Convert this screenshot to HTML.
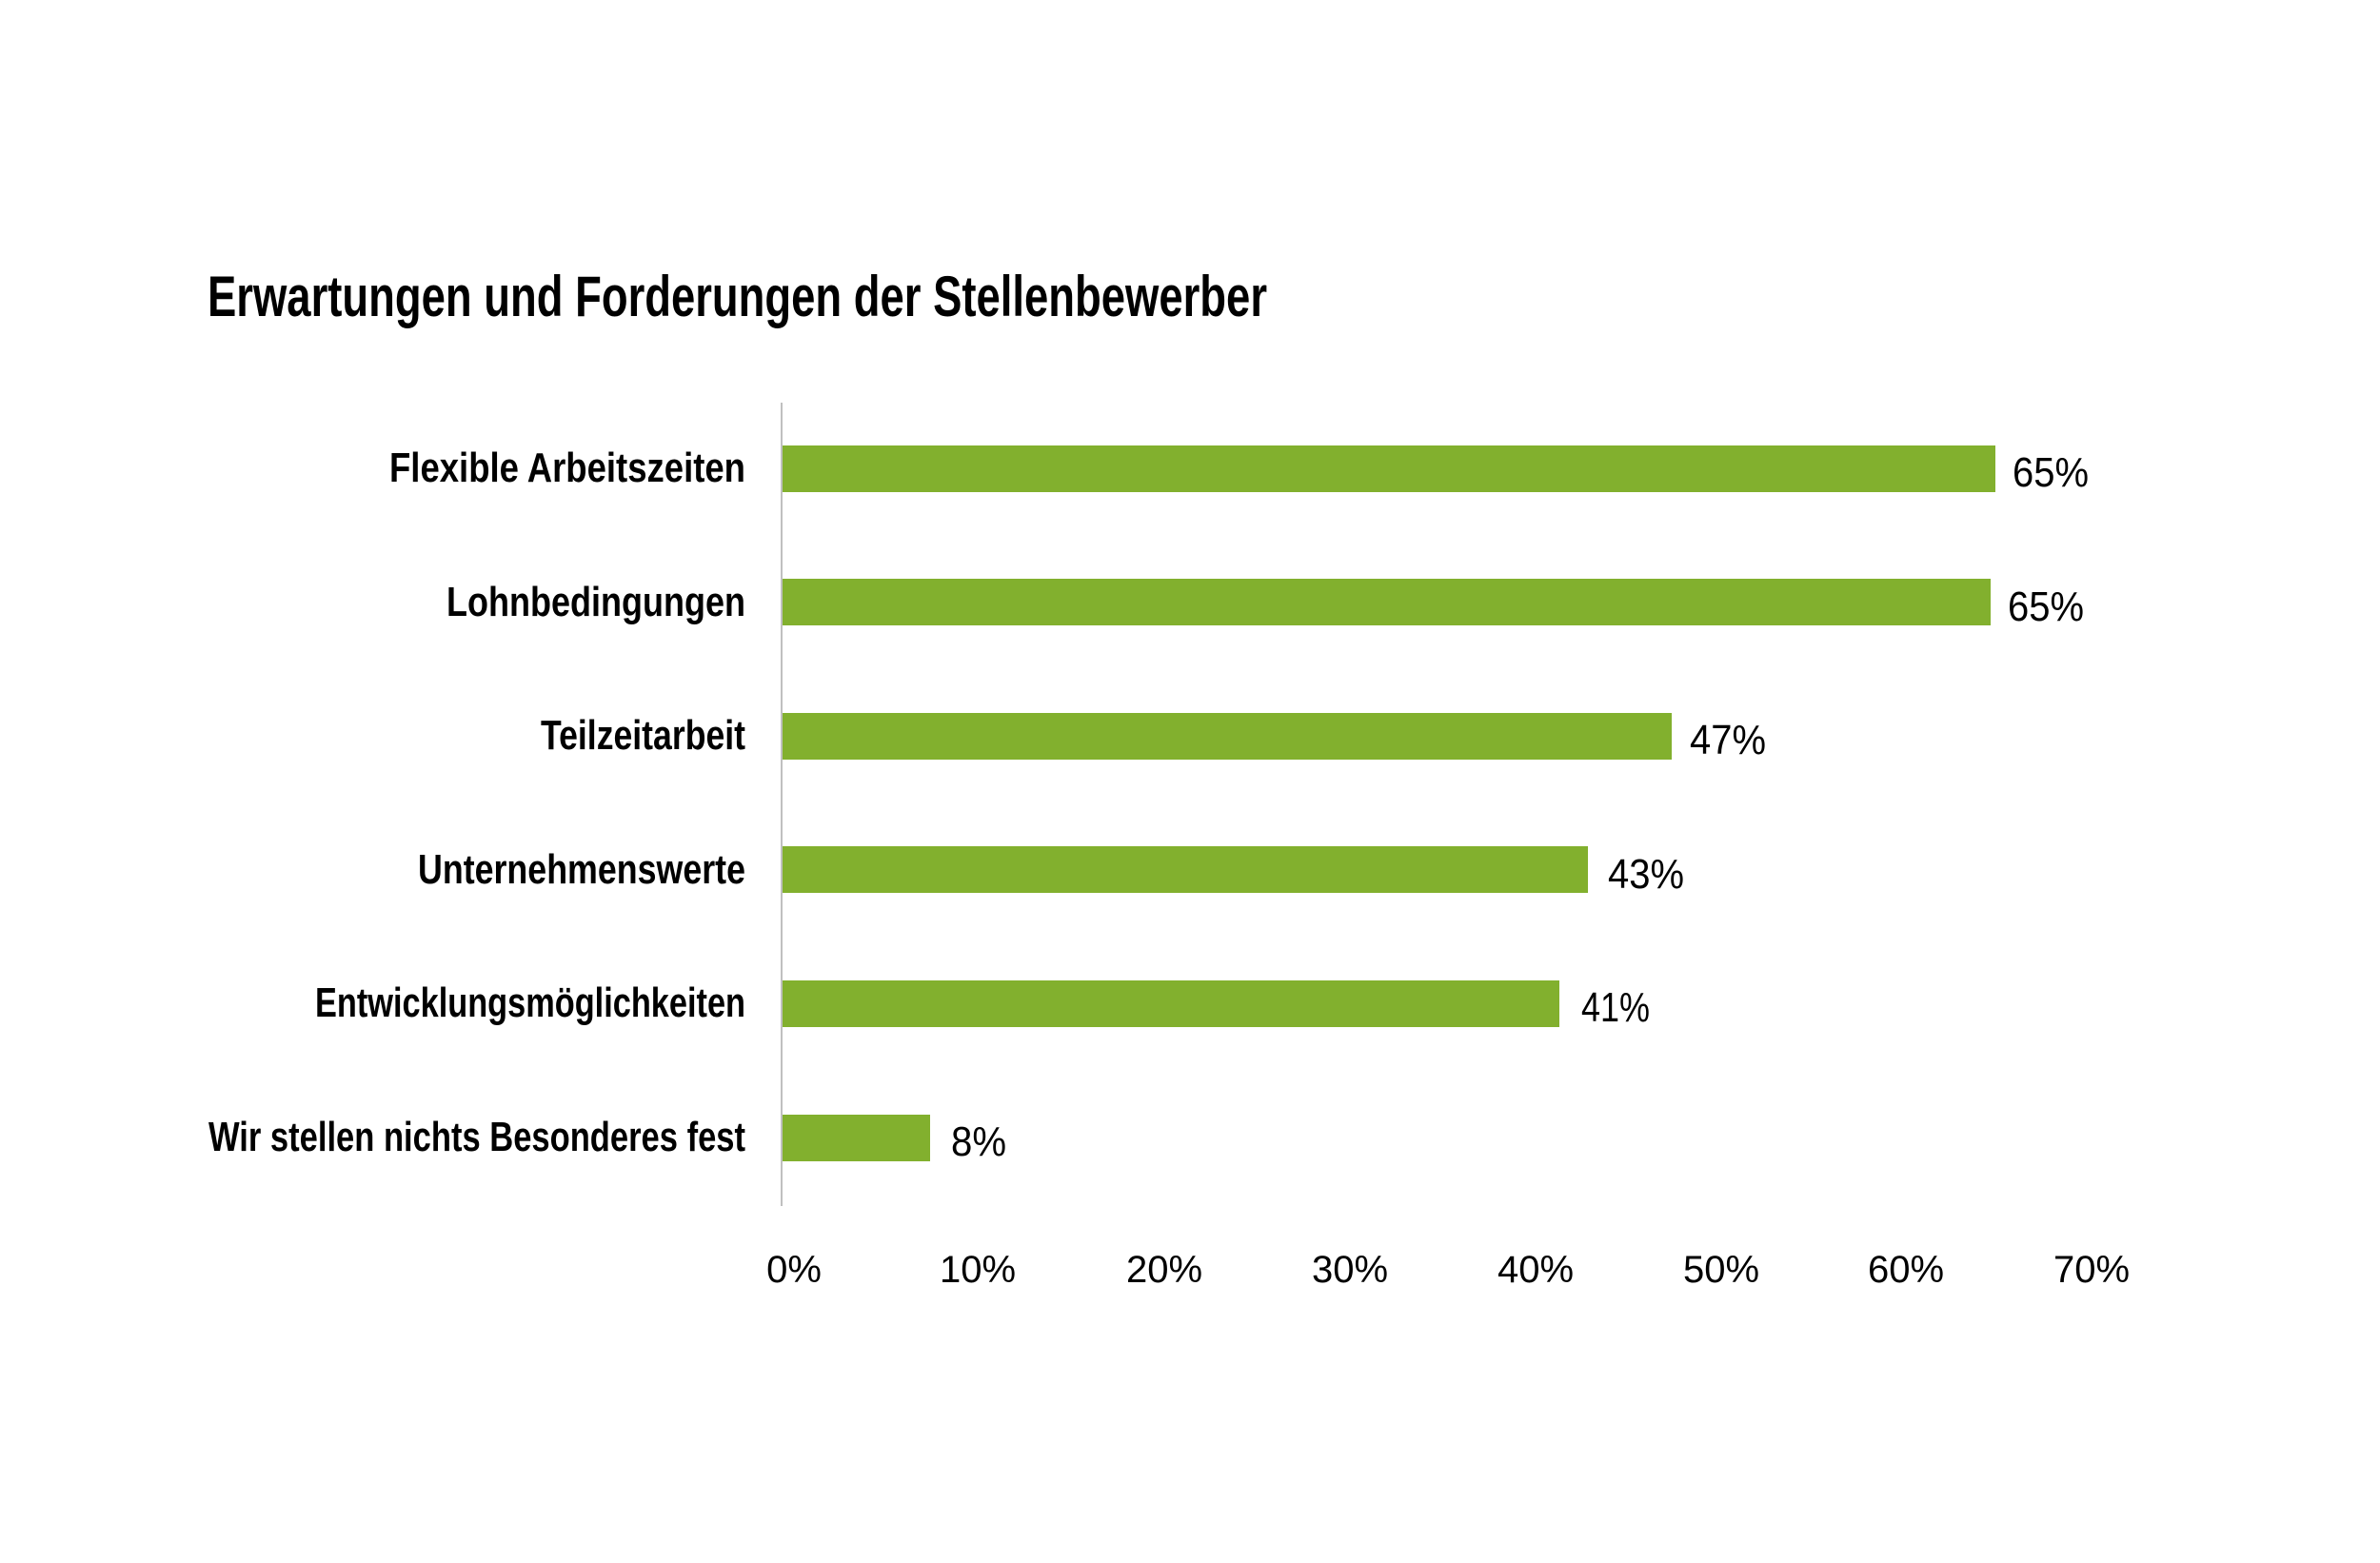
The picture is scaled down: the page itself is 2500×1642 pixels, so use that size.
<!DOCTYPE html>
<html><head><meta charset="utf-8"><style>html,body{margin:0;padding:0;background:#fff}</style></head>
<body>
<svg width="2500" height="1637" xmlns="http://www.w3.org/2000/svg" font-family="Liberation Sans, sans-serif">
<rect width="2500" height="1637" fill="#fff"/>
<text x="218" y="332" font-size="60" font-weight="bold" textLength="1113" lengthAdjust="spacingAndGlyphs">Erwartungen und Forderungen der Stellenbewerber</text>
<line x1="821" y1="423" x2="821" y2="1267" stroke="#c0c0c0" stroke-width="2"/>
<g fill="#82b02e">
<rect x="822" y="468" width="1274" height="49"/>
<rect x="822" y="608" width="1269" height="49"/>
<rect x="822" y="749" width="934" height="49"/>
<rect x="822" y="889" width="846" height="49"/>
<rect x="822" y="1030" width="816" height="49"/>
<rect x="822" y="1171" width="155" height="49"/>
</g>
<g font-size="44" font-weight="bold" text-anchor="end">
<text x="783" y="506" textLength="374" lengthAdjust="spacingAndGlyphs">Flexible Arbeitszeiten</text>
<text x="783" y="647" textLength="314" lengthAdjust="spacingAndGlyphs">Lohnbedingungen</text>
<text x="783" y="787" textLength="215" lengthAdjust="spacingAndGlyphs">Teilzeitarbeit</text>
<text x="783" y="928" textLength="344" lengthAdjust="spacingAndGlyphs">Unternehmenswerte</text>
<text x="783" y="1068" textLength="452" lengthAdjust="spacingAndGlyphs">Entwicklungsmöglichkeiten</text>
<text x="783" y="1209" textLength="564" lengthAdjust="spacingAndGlyphs">Wir stellen nichts Besonderes fest</text>
</g>
<g font-size="44">
<text x="2114" y="511" textLength="80" lengthAdjust="spacingAndGlyphs">65%</text>
<text x="2109" y="652" textLength="80" lengthAdjust="spacingAndGlyphs">65%</text>
<text x="1775" y="792" textLength="80" lengthAdjust="spacingAndGlyphs">47%</text>
<text x="1689" y="933" textLength="80" lengthAdjust="spacingAndGlyphs">43%</text>
<text x="1661" y="1073" textLength="72" lengthAdjust="spacingAndGlyphs">41%</text>
<text x="999" y="1214" textLength="58" lengthAdjust="spacingAndGlyphs">8%</text>
</g>
<g font-size="40" text-anchor="middle">
<text x="834" y="1347">0%</text>
<text x="1027" y="1347">10%</text>
<text x="1223" y="1347">20%</text>
<text x="1418" y="1347">30%</text>
<text x="1613" y="1347">40%</text>
<text x="1808" y="1347">50%</text>
<text x="2002" y="1347">60%</text>
<text x="2197" y="1347">70%</text>
</g>
</svg>
</body></html>
